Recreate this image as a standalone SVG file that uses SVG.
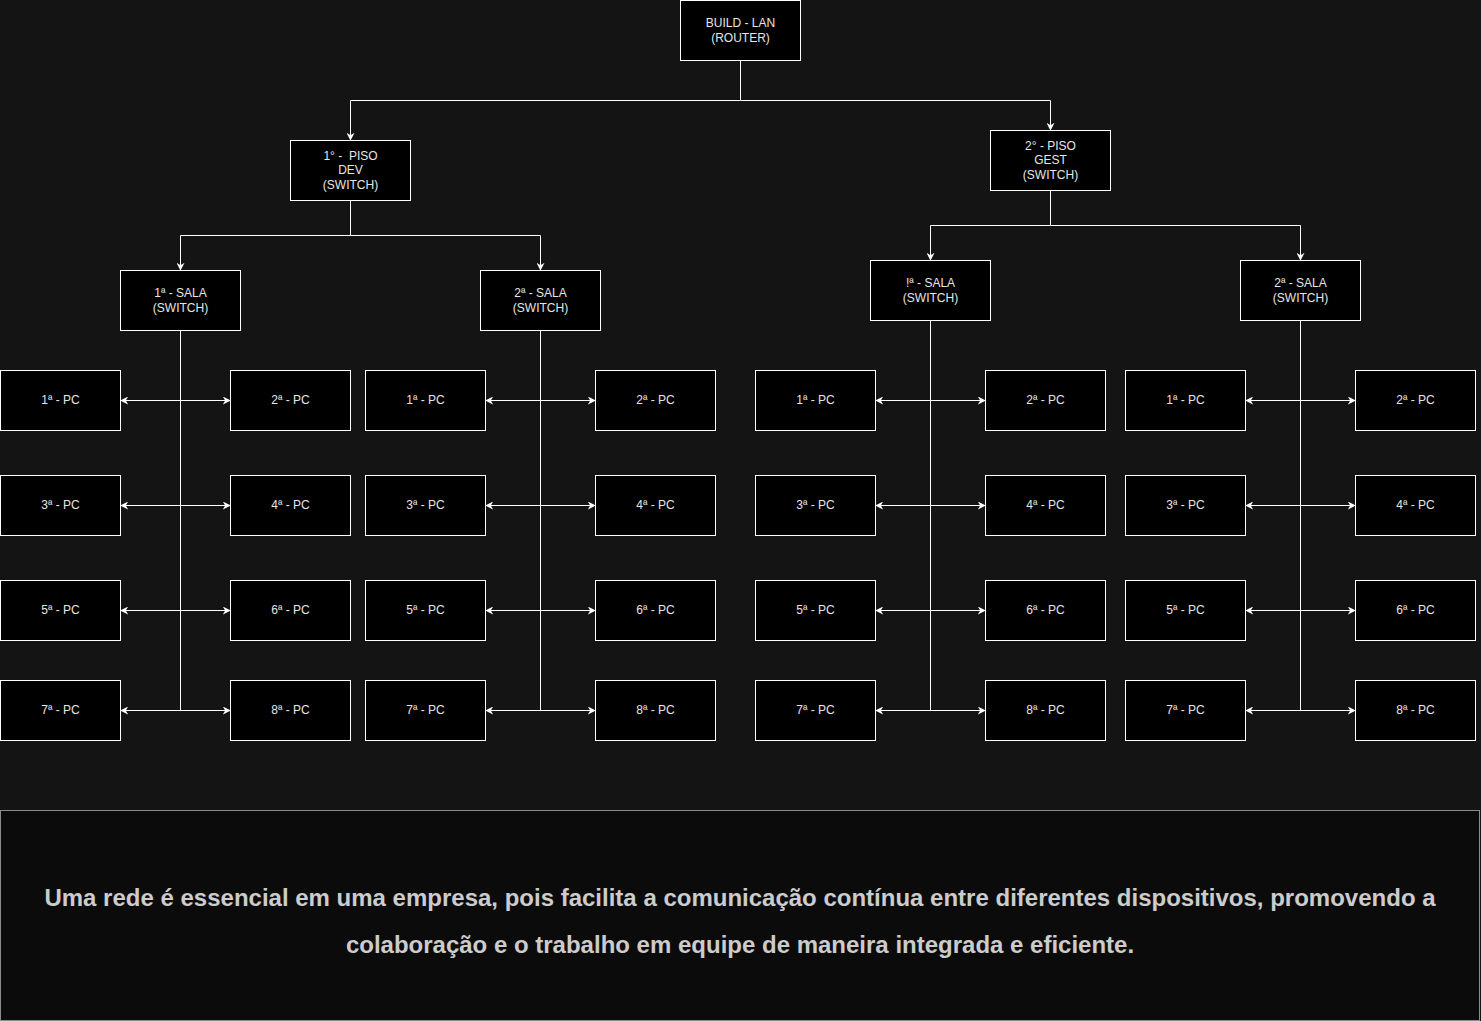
<svg xmlns="http://www.w3.org/2000/svg" width="1481" height="1021" viewBox="0 0 1481 1021">
<defs>
<marker id="arr" viewBox="0 0 10 10" refX="9" refY="5" markerWidth="8" markerHeight="8" markerUnits="userSpaceOnUse" orient="auto-start-reverse">
<path d="M0,0 L10,5 L0,10 L3,5 Z" fill="#ffffff"/>
</marker>
<style>
.n rect{fill:#000000;stroke:#ffffff;stroke-width:1}
.n text{font-family:"Liberation Sans",Arial,Helvetica,sans-serif;font-size:12px;fill:#e6e6e6;text-anchor:middle}
.c path{fill:none;stroke:#ffffff;stroke-width:1}
.a{marker-end:url(#arr)}
.b{marker-start:url(#arr);marker-end:url(#arr)}
.note{font-family:"Liberation Sans",Arial,Helvetica,sans-serif;font-size:24px;font-weight:bold;fill:#cccccc;text-anchor:middle}
</style>
</defs>
<rect x="0" y="0" width="1481" height="1021" fill="#141414"/>

<g class="c" id="connectors">
<path class="a" d="M740.5,60.5 V100.5 H350.5 V140"/>
<path class="a" d="M740.5,100.5 H1050.5 V130"/>
<path class="a" d="M350.5,200.5 V235.5 H180.5 V270"/>
<path class="a" d="M350.5,235.5 H540.5 V270"/>
<path class="a" d="M1050.5,190.5 V225.5 H930.5 V260"/>
<path class="a" d="M1050.5,225.5 H1300.5 V260"/>
<path d="M180.5,330.5 V710.5"/>
<path d="M540.5,330.5 V710.5"/>
<path d="M930.5,320.5 V710.5"/>
<path d="M1300.5,320.5 V710.5"/>
<path class="b" d="M121,400.5 H230"/>
<path class="b" d="M121,505.5 H230"/>
<path class="b" d="M121,610.5 H230"/>
<path class="b" d="M121,710.5 H230"/>
<path class="b" d="M486,400.5 H595"/>
<path class="b" d="M486,505.5 H595"/>
<path class="b" d="M486,610.5 H595"/>
<path class="b" d="M486,710.5 H595"/>
<path class="b" d="M876,400.5 H985"/>
<path class="b" d="M876,505.5 H985"/>
<path class="b" d="M876,610.5 H985"/>
<path class="b" d="M876,710.5 H985"/>
<path class="b" d="M1246,400.5 H1355"/>
<path class="b" d="M1246,505.5 H1355"/>
<path class="b" d="M1246,610.5 H1355"/>
<path class="b" d="M1246,710.5 H1355"/>
</g>

<g class="n" id="router"><rect x="680.5" y="0.5" width="120" height="60"/><text x="740.5" y="27">BUILD - LAN</text><text x="740.5" y="42">(ROUTER)</text></g>
<g class="n" id="piso1"><rect x="290.5" y="140.5" width="120" height="60"/><text x="350.5" y="160" xml:space="preserve">1° -  PISO</text><text x="350.5" y="174">DEV</text><text x="350.5" y="189">(SWITCH)</text></g>
<g class="n" id="piso2"><rect x="990.5" y="130.5" width="120" height="60"/><text x="1050.5" y="150">2° - PISO</text><text x="1050.5" y="164">GEST</text><text x="1050.5" y="179">(SWITCH)</text></g>
<g class="n" id="p1sala1"><rect x="120.5" y="270.5" width="120" height="60"/><text x="180.5" y="297">1ª - SALA</text><text x="180.5" y="312">(SWITCH)</text></g>
<g class="n" id="p1sala2"><rect x="480.5" y="270.5" width="120" height="60"/><text x="540.5" y="297">2ª - SALA</text><text x="540.5" y="312">(SWITCH)</text></g>
<g class="n" id="p2sala1"><rect x="870.5" y="260.5" width="120" height="60"/><text x="930.5" y="287">!ª - SALA</text><text x="930.5" y="302">(SWITCH)</text></g>
<g class="n" id="p2sala2"><rect x="1240.5" y="260.5" width="120" height="60"/><text x="1300.5" y="287">2ª - SALA</text><text x="1300.5" y="302">(SWITCH)</text></g>

<g class="n" id="g1pc1"><rect x="0.5" y="370.5" width="120" height="60"/><text x="60.5" y="404">1ª - PC</text></g>
<g class="n" id="g1pc2"><rect x="230.5" y="370.5" width="120" height="60"/><text x="290.5" y="404">2ª - PC</text></g>
<g class="n" id="g1pc3"><rect x="0.5" y="475.5" width="120" height="60"/><text x="60.5" y="509">3ª - PC</text></g>
<g class="n" id="g1pc4"><rect x="230.5" y="475.5" width="120" height="60"/><text x="290.5" y="509">4ª - PC</text></g>
<g class="n" id="g1pc5"><rect x="0.5" y="580.5" width="120" height="60"/><text x="60.5" y="614">5ª - PC</text></g>
<g class="n" id="g1pc6"><rect x="230.5" y="580.5" width="120" height="60"/><text x="290.5" y="614">6ª - PC</text></g>
<g class="n" id="g1pc7"><rect x="0.5" y="680.5" width="120" height="60"/><text x="60.5" y="714">7ª - PC</text></g>
<g class="n" id="g1pc8"><rect x="230.5" y="680.5" width="120" height="60"/><text x="290.5" y="714">8ª - PC</text></g>

<g class="n" id="g2pc1"><rect x="365.5" y="370.5" width="120" height="60"/><text x="425.5" y="404">1ª - PC</text></g>
<g class="n" id="g2pc2"><rect x="595.5" y="370.5" width="120" height="60"/><text x="655.5" y="404">2ª - PC</text></g>
<g class="n" id="g2pc3"><rect x="365.5" y="475.5" width="120" height="60"/><text x="425.5" y="509">3ª - PC</text></g>
<g class="n" id="g2pc4"><rect x="595.5" y="475.5" width="120" height="60"/><text x="655.5" y="509">4ª - PC</text></g>
<g class="n" id="g2pc5"><rect x="365.5" y="580.5" width="120" height="60"/><text x="425.5" y="614">5ª - PC</text></g>
<g class="n" id="g2pc6"><rect x="595.5" y="580.5" width="120" height="60"/><text x="655.5" y="614">6ª - PC</text></g>
<g class="n" id="g2pc7"><rect x="365.5" y="680.5" width="120" height="60"/><text x="425.5" y="714">7ª - PC</text></g>
<g class="n" id="g2pc8"><rect x="595.5" y="680.5" width="120" height="60"/><text x="655.5" y="714">8ª - PC</text></g>

<g class="n" id="g3pc1"><rect x="755.5" y="370.5" width="120" height="60"/><text x="815.5" y="404">1ª - PC</text></g>
<g class="n" id="g3pc2"><rect x="985.5" y="370.5" width="120" height="60"/><text x="1045.5" y="404">2ª - PC</text></g>
<g class="n" id="g3pc3"><rect x="755.5" y="475.5" width="120" height="60"/><text x="815.5" y="509">3ª - PC</text></g>
<g class="n" id="g3pc4"><rect x="985.5" y="475.5" width="120" height="60"/><text x="1045.5" y="509">4ª - PC</text></g>
<g class="n" id="g3pc5"><rect x="755.5" y="580.5" width="120" height="60"/><text x="815.5" y="614">5ª - PC</text></g>
<g class="n" id="g3pc6"><rect x="985.5" y="580.5" width="120" height="60"/><text x="1045.5" y="614">6ª - PC</text></g>
<g class="n" id="g3pc7"><rect x="755.5" y="680.5" width="120" height="60"/><text x="815.5" y="714">7ª - PC</text></g>
<g class="n" id="g3pc8"><rect x="985.5" y="680.5" width="120" height="60"/><text x="1045.5" y="714">8ª - PC</text></g>

<g class="n" id="g4pc1"><rect x="1125.5" y="370.5" width="120" height="60"/><text x="1185.5" y="404">1ª - PC</text></g>
<g class="n" id="g4pc2"><rect x="1355.5" y="370.5" width="120" height="60"/><text x="1415.5" y="404">2ª - PC</text></g>
<g class="n" id="g4pc3"><rect x="1125.5" y="475.5" width="120" height="60"/><text x="1185.5" y="509">3ª - PC</text></g>
<g class="n" id="g4pc4"><rect x="1355.5" y="475.5" width="120" height="60"/><text x="1415.5" y="509">4ª - PC</text></g>
<g class="n" id="g4pc5"><rect x="1125.5" y="580.5" width="120" height="60"/><text x="1185.5" y="614">5ª - PC</text></g>
<g class="n" id="g4pc6"><rect x="1355.5" y="580.5" width="120" height="60"/><text x="1415.5" y="614">6ª - PC</text></g>
<g class="n" id="g4pc7"><rect x="1125.5" y="680.5" width="120" height="60"/><text x="1185.5" y="714">7ª - PC</text></g>
<g class="n" id="g4pc8"><rect x="1355.5" y="680.5" width="120" height="60"/><text x="1415.5" y="714">8ª - PC</text></g>

<g id="note">
<rect x="0.5" y="810.5" width="1479" height="210" fill="#0b0b0b" stroke="#8c8c8c" stroke-width="1"/>
<text class="note" x="740" y="906">Uma rede é essencial em uma empresa, pois facilita a comunicação contínua entre diferentes dispositivos, promovendo a</text>
<text class="note" x="740" y="953">colaboração e o trabalho em equipe de maneira integrada e eficiente.</text>
</g>
</svg>
